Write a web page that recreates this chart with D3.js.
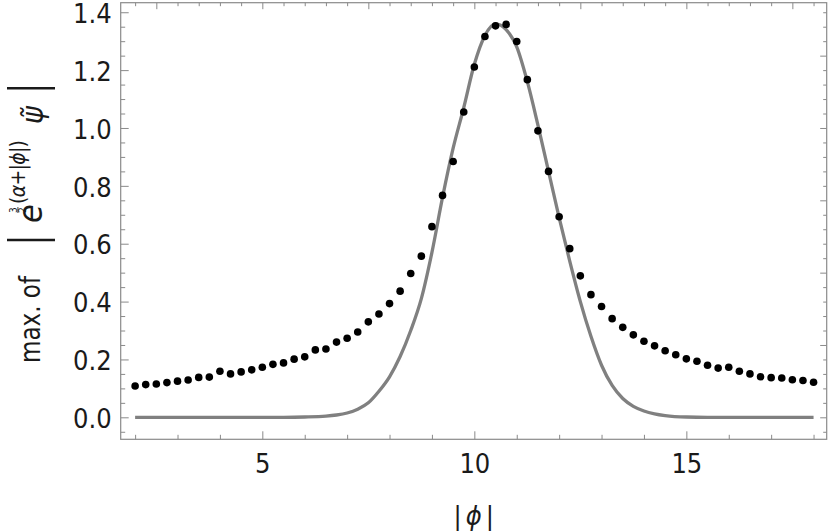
<!DOCTYPE html>
<html>
<head>
<meta charset="utf-8">
<script src="https://cdn.jsdelivr.net/npm/d3@7"></script>
<style>
body{margin:0;background:#fff;}
svg{display:block;}
text{font-family:"DejaVu Sans Condensed","DejaVu Sans",sans-serif;}
</style>
</head>
<body>
<svg id="chart" width="830" height="531"></svg>
<script>
// dots: numerical max values
var dotX=[2,2.25,2.5,2.75,3,3.25,3.5,3.75,4,4.25,4.5,4.75,5,5.25,5.5,5.75,6,6.25,6.5,6.75,7,7.25,7.5,7.75,8,8.25,8.5,8.75,9,9.25,9.5,9.75,10,10.25,10.5,10.75,11,11.25,11.5,11.75,12,12.25,12.5,12.75,13,13.25,13.5,13.75,14,14.25,14.5,14.75,15,15.25,15.5,15.75,16,16.25,16.5,16.75,17,17.25,17.5,17.75,18];
var dotY=[0.108,0.113,0.115,0.120,0.125,0.129,0.138,0.139,0.159,0.150,0.157,0.164,0.173,0.183,0.188,0.201,0.209,0.233,0.236,0.260,0.273,0.295,0.330,0.357,0.393,0.436,0.497,0.557,0.659,0.767,0.884,1.055,1.211,1.316,1.353,1.358,1.299,1.167,0.990,0.850,0.693,0.583,0.489,0.424,0.383,0.341,0.311,0.285,0.263,0.247,0.230,0.216,0.202,0.194,0.180,0.170,0.173,0.159,0.150,0.140,0.137,0.136,0.130,0.127,0.121];

// gray curve
var lineX=[2,3,4,5,5.5,6,6.5,6.75,7,7.25,7.5,7.75,8,8.25,8.5,8.75,9,9.25,9.5,9.75,10,10.25,10.5,10.75,11,11.25,11.5,11.75,12,12.25,12.5,12.75,13,13.25,13.5,13.75,14,14.25,14.5,15,15.5,16,17,18];
var lineY=[0,0,0,0,0,0.001,0.004,0.008,0.015,0.028,0.05,0.09,0.14,0.21,0.30,0.41,0.57,0.76,0.93,1.07,1.22,1.32,1.36,1.34,1.28,1.16,1.01,0.85,0.69,0.54,0.40,0.28,0.18,0.11,0.065,0.038,0.022,0.012,0.006,0.001,0,0,0,0];

var xMajor=[5,10,15];
var xLabels=["5","10","15"];
var xMinor=[2,3,4,6,7,8,9,11,12,13,14,16,17,18];
var xTopMajor=[2.5,5,7.5,10,12.5,15,17.5];
var xTopMinor=[2,3,3.5,4,4.5,5.5,6,6.5,7,8,8.5,9,9.5,10.5,11,11.5,12,13,13.5,14,14.5,15.5,16,16.5,17,18];
var yMajor=[0,0.2,0.4,0.6,0.8,1.0,1.2,1.4];
var yLabels=["0.0","0.2","0.4","0.6","0.8","1.0","1.2","1.4"];
var yMinor=[-0.05,0.05,0.1,0.15,0.25,0.3,0.35,0.45,0.5,0.55,0.65,0.7,0.75,0.85,0.9,0.95,1.05,1.1,1.15,1.25,1.3,1.35];
var yRightMajor=[0,0.25,0.5,0.75,1.0,1.25];
var yRightMinor=[-0.05,0.05,0.1,0.15,0.2,0.3,0.35,0.4,0.45,0.55,0.6,0.65,0.7,0.8,0.85,0.9,0.95,1.05,1.1,1.15,1.2,1.3,1.35,1.4];

var svg=d3.select("#chart");

var x=d3.scaleLinear().domain([1.66,18.31]).range([120.7,826.7]);
var y=d3.scaleLinear().domain([-0.076,1.433]).range([439.3,2.7]);

var frameColor="#8a8a8a";

function styleAxis(g){
	g.select(".domain").remove();
	g.selectAll(".tick line").attr("stroke",frameColor);
	g.selectAll("text").attr("fill","#1a1a1a").attr("font-size",27)
		.attr("font-family",'"DejaVu Sans Condensed","DejaVu Sans",sans-serif');
}

// bottom
svg.append("g").attr("transform","translate(0,439.3)")
	.call(d3.axisBottom(x).tickValues(xMajor).tickFormat(function(d,i){return xLabels[i];})
		.tickSizeInner(-8).tickSizeOuter(0).tickPadding(15))
	.call(styleAxis);
svg.append("g").attr("transform","translate(0,439.3)")
	.call(d3.axisBottom(x).tickValues(xMinor).tickFormat("").tickSizeInner(-4.5).tickSizeOuter(0))
	.call(styleAxis);
// top
svg.append("g").attr("transform","translate(0,2.7)")
	.call(d3.axisTop(x).tickValues(xTopMajor).tickFormat("").tickSizeInner(-6.5).tickSizeOuter(0))
	.call(styleAxis);
svg.append("g").attr("transform","translate(0,2.7)")
	.call(d3.axisTop(x).tickValues(xTopMinor).tickFormat("").tickSizeInner(-3.5).tickSizeOuter(0))
	.call(styleAxis);
// left
svg.append("g").attr("transform","translate(120.7,0)")
	.call(d3.axisLeft(y).tickValues(yMajor).tickFormat(function(d,i){return yLabels[i];})
		.tickSizeInner(-8).tickSizeOuter(0).tickPadding(9))
	.call(styleAxis)
	.selectAll("text").attr("dy","0.38em");
svg.append("g").attr("transform","translate(120.7,0)")
	.call(d3.axisLeft(y).tickValues(yMinor).tickFormat("").tickSizeInner(-4.5).tickSizeOuter(0))
	.call(styleAxis);
// right
svg.append("g").attr("transform","translate(826.7,0)")
	.call(d3.axisRight(y).tickValues(yRightMajor).tickFormat("").tickSizeInner(-6.5).tickSizeOuter(0))
	.call(styleAxis);
svg.append("g").attr("transform","translate(826.7,0)")
	.call(d3.axisRight(y).tickValues(yRightMinor).tickFormat("").tickSizeInner(-3.5).tickSizeOuter(0))
	.call(styleAxis);

// frame
svg.append("rect")
	.attr("x",x.range()[0]).attr("y",y.range()[1])
	.attr("width",x.range()[1]-x.range()[0]).attr("height",y.range()[0]-y.range()[1])
	.attr("fill","none").attr("stroke",frameColor).attr("stroke-width",1.2);

// curve
var line=d3.line()
	.x(function(d){return x(d[0]);})
	.y(function(d){return y(d[1]);})
	.curve(d3.curveMonotoneX);
svg.append("path")
	.attr("d",line(lineX.map(function(v,i){return [v,lineY[i]];})))
	.attr("fill","none").attr("stroke","#808080").attr("stroke-width",3.3);

// dots
svg.append("g").selectAll("circle")
	.data(dotX)
	.enter()
	.append("circle")
	.attr("cx",function(d){return x(d);})
	.attr("cy",function(d,i){return y(dotY[i]);})
	.attr("r",3.8)
	.attr("fill","#000");

// x label
var xl=svg.append("text").attr("x",(x.range()[0]+x.range()[1])/2).attr("y",525)
	.attr("text-anchor","middle").attr("font-size",27).attr("fill","#1a1a1a");
xl.append("tspan").text("|");
xl.append("tspan").attr("dx",4).attr("font-style","italic").text("\u03d5");
xl.append("tspan").attr("dx",4).text("|");

// y label (rotated)
var yl=svg.append("g").attr("transform","translate(39.5,221) rotate(-90)").attr("fill","#1a1a1a");
yl.append("text").attr("x",-142).attr("y",0).attr("font-size",29)
	.attr("textLength",87).attr("lengthAdjust","spacingAndGlyphs").text("max. of");
yl.append("line").attr("x1",-19).attr("x2",-19).attr("y1",-32.5).attr("y2",15.5)
	.attr("stroke","#1a1a1a").attr("stroke-width",2.4);
yl.append("line").attr("x1",132.7).attr("x2",132.7).attr("y1",-32.5).attr("y2",15.5)
	.attr("stroke","#1a1a1a").attr("stroke-width",2.4);
yl.append("text").attr("x",-2).attr("y",2).attr("font-size",34).attr("font-style","italic").text("e");
yl.append("text").attr("x",11).attr("y",-23).attr("font-size",10).attr("text-anchor","middle").text("3");
yl.append("line").attr("x1",8).attr("x2",14).attr("y1",-21.6).attr("y2",-21.6)
	.attr("stroke","#1a1a1a").attr("stroke-width",0.8);
yl.append("text").attr("x",11).attr("y",-13.5).attr("font-size",10).attr("text-anchor","middle").text("2");
var sup=yl.append("text").attr("x",17).attr("y",-14.5).attr("font-size",21)
	.attr("textLength",64).attr("lengthAdjust","spacing");
sup.append("tspan").text("(");
sup.append("tspan").attr("font-style","italic").text("\u03b1");
sup.append("tspan").text("+|");
sup.append("tspan").attr("font-style","italic").text("\u03d5");
sup.append("tspan").text("|)");
yl.append("text").attr("x",97).attr("y",3).attr("font-size",30).attr("font-style","italic").text("\u03c8\u0303");
</script>
</body>
</html>
